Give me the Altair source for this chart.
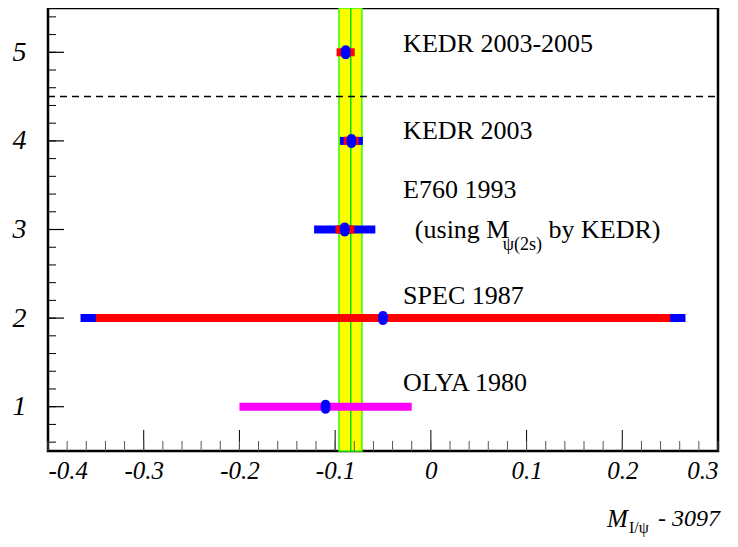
import altair as alt
import pandas as pd

# ---- data ----
names = ["KEDR 2003-2005", "KEDR 2003", "E760 1993", "SPEC 1987", "OLYA 1980"]
ypos = [5, 4, 3, 2, 1]
centers = [-0.089, -0.083, -0.090, -0.050, -0.110]

# total error bars (blue), stat error bars (red), single-error bar (magenta)
seg_y = [4, 3, 2, 5, 4, 3, 2, 1]
seg_lo = [-0.095, -0.122, -0.366, -0.0985, -0.091, -0.0996, -0.350, -0.200]
seg_hi = [-0.071, -0.058, 0.266, -0.0795, -0.0755, -0.080, 0.250, -0.020]
seg_kind = ["total", "total", "total", "stat", "stat", "stat", "stat", "single"]

band_lo, band_hi, band_mid = -0.096, -0.072, -0.0837
sep_y = 4.5

label_x = [-0.029, -0.029, -0.029, -0.029, -0.029]
label_y = [5.094, 4.112, 3.446, 2.25, 1.268]

x_major = [-0.4, -0.3, -0.2, -0.1, 0.0, 0.1, 0.2, 0.3]
x_minor = [round(-0.4 + 0.02 * i, 2) for i in range(36)]
y_major = [1, 2, 3, 4, 5]
y_minor = [round(0.6 + 0.2 * i, 1) for i in range(25)]

W, H = 670, 443
XD = [-0.4, 0.3]
YD = [0.5, 5.5]
SERIF = "Liberation Serif"

xs = alt.Scale(domain=XD, nice=False, zero=False)
ys = alt.Scale(domain=YD, nice=False, zero=False)

pts = pd.DataFrame({"name": names, "y": ypos, "x": centers})
segs = pd.DataFrame({"y": seg_y, "lo": seg_lo, "hi": seg_hi, "kind": seg_kind})
labs = pd.DataFrame({"name": names, "x": label_x, "y": label_y})

base_x = alt.X("x:Q", scale=xs, title=None,
               axis=alt.Axis(values=x_major, domain=False, ticks=False, tickSize=0, grid=False,
                             labelFont=SERIF, labelFontStyle="italic", labelFontSize=25,
                             labelPadding=7, labelColor="black",
                             labelExpr="datum.value == 0 ? '0' : (datum.value < 0 ? '-' + format(-datum.value, '.1f') : format(datum.value, '.1f'))"))
base_y = alt.Y("y:Q", scale=ys, title=None,
               axis=alt.Axis(values=y_major, domain=False, ticks=False, tickSize=0, grid=False,
                             labelFont=SERIF, labelFontStyle="italic", labelFontSize=28,
                             labelPadding=22, labelColor="black", format="d"))

# band
band = alt.Chart(pd.DataFrame({"a": [band_lo], "b": [band_hi]})).mark_rect(
    fill="#ffff00", stroke="#33ff00", strokeWidth=1.5
).encode(x=alt.X("a:Q", scale=xs), x2="b:Q", y=alt.value(0), y2=alt.value(H))

mid = alt.Chart(pd.DataFrame({"m": [band_mid]})).mark_rule(color="#00dd00", strokeWidth=1.5).encode(
    x=alt.X("m:Q", scale=xs), y=alt.value(0), y2=alt.value(H))

sep = alt.Chart(pd.DataFrame({"s": [sep_y]})).mark_rule(
    color="black", strokeWidth=1.5, strokeDash=[7, 5]
).encode(y=alt.Y("s:Q", scale=ys), x=alt.value(0), x2=alt.value(W))

bars = alt.Chart(segs).mark_rule(strokeWidth=8, strokeCap="butt").encode(
    x=alt.X("lo:Q", scale=xs), x2="hi:Q", y=alt.Y("y:Q", scale=ys),
    color=alt.Color("kind:N", legend=None,
                    scale=alt.Scale(domain=["total", "stat", "single"],
                                    range=["#0000ff", "#ff0000", "#ff00ff"])))

ellipse = ("M0,-1 C0.55,-1 0.7,-0.55 0.7,0 C0.7,0.55 0.55,1 0,1 "
           "C-0.55,1 -0.7,0.55 -0.7,0 C-0.7,-0.55 -0.55,-1 0,-1 Z")
points = alt.Chart(pts).mark_point(shape=ellipse, size=196, filled=True, color="#0000ff", opacity=1).encode(
    x=base_x, y=base_y)

# ticks (inward)
ytmaj = alt.Chart(pd.DataFrame({"t": y_major})).mark_rule(color="black", strokeWidth=1.2).encode(
    y=alt.Y("t:Q", scale=ys), x=alt.value(0), x2=alt.value(16))
ytmin = alt.Chart(pd.DataFrame({"t": y_minor})).mark_rule(color="black", strokeWidth=1).encode(
    y=alt.Y("t:Q", scale=ys), x=alt.value(0), x2=alt.value(8))
xtmaj = alt.Chart(pd.DataFrame({"t": x_major})).mark_rule(color="black", strokeWidth=1).encode(
    x=alt.X("t:Q", scale=xs), y=alt.value(H), y2=alt.value(H - 21))
xtmin = alt.Chart(pd.DataFrame({"t": x_minor})).mark_rule(color="#555555", strokeWidth=1).encode(
    x=alt.X("t:Q", scale=xs), y=alt.value(H), y2=alt.value(H - 10))

text = alt.Chart(labs).mark_text(align="left", baseline="middle", font=SERIF, fontSize=26).encode(
    x=alt.X("x:Q", scale=xs), y=alt.Y("y:Q", scale=ys), text="name:N")

sub_df = pd.DataFrame({"t": ["(using M", "by KEDR)"], "x": [-0.0167, 0.123], "y": [2.994, 2.994]})
sub_text = alt.Chart(sub_df).mark_text(align="left", baseline="middle", font=SERIF, fontSize=26).encode(
    x=alt.X("x:Q", scale=xs), y=alt.Y("y:Q", scale=ys), text="t:N")
sub_small = alt.Chart(pd.DataFrame({"t": ["ψ(2s)"], "x": [0.0752], "y": [2.825]})).mark_text(
    align="left", baseline="middle", font=SERIF, fontSize=18).encode(
    x=alt.X("x:Q", scale=xs), y=alt.Y("y:Q", scale=ys), text="t:N")

# axis title pieces (below the plot)
t_m = alt.Chart(pd.DataFrame({"t": ["M"]})).mark_text(
    align="left", baseline="middle", font=SERIF, fontStyle="italic", fontSize=25).encode(
    x=alt.value(559), y=alt.value(H + 68), text="t:N")
t_s = alt.Chart(pd.DataFrame({"t": ["I/ψ"]})).mark_text(
    align="left", baseline="middle", font=SERIF, fontSize=16).encode(
    x=alt.value(581), y=alt.value(H + 77), text="t:N")
t_r = alt.Chart(pd.DataFrame({"t": ["- 3097"]})).mark_text(
    align="left", baseline="middle", font=SERIF, fontStyle="italic", fontSize=24).encode(
    x=alt.value(610), y=alt.value(H + 68), text="t:N")

chart = alt.layer(
    band, mid, sep, bars, points, ytmaj, ytmin, xtmaj, xtmin, text, sub_text, sub_small, t_m, t_s, t_r
).properties(
    width=W, height=H,
    autosize=alt.AutoSizeParams(type="none"),
    padding={"left": 40, "top": 0, "right": 12, "bottom": 88},
).configure(
    font=SERIF,
    view=alt.ViewConfig(stroke="black", strokeWidth=2.5),
    text=alt.MarkConfig(font=SERIF, color="black"),
)

chart.save("out.html", embed_options={"renderer": "svg", "actions": False})
